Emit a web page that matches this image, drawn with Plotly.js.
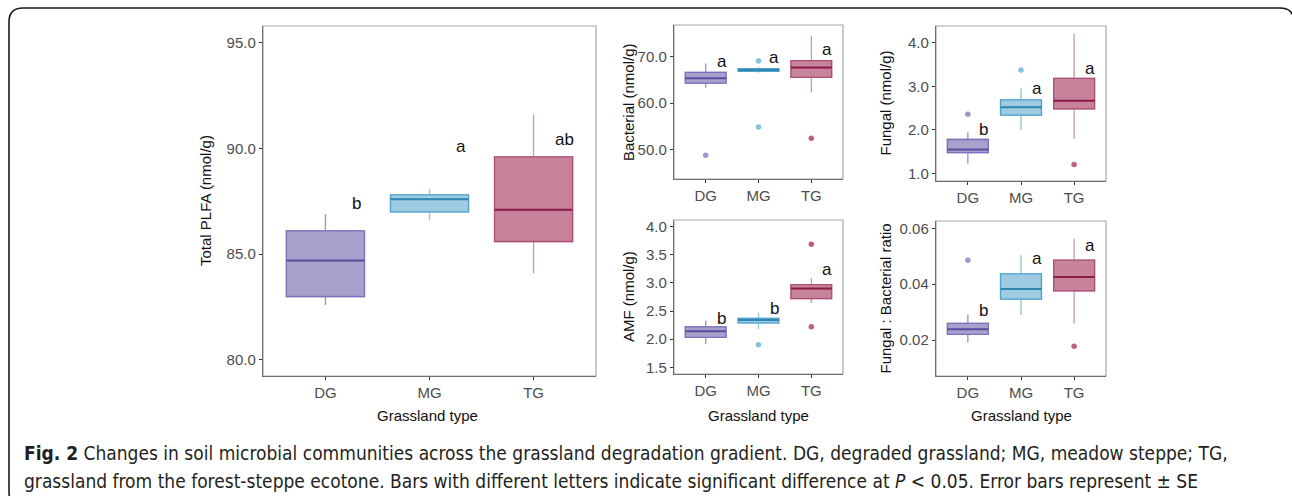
<!DOCTYPE html>
<html>
<head>
<meta charset="utf-8">
<script src="https://cdn.plot.ly/plotly-3.0.1.min.js"></script>
<style>html,body{margin:0;padding:0;background:#fff;}#chart{width:1292px;height:496px;}</style>
</head>
<body>
<div id="chart"></div>
<script>
// ---------------- data ----------------
const groups = ['DG', 'MG', 'TG'];

const plfaLower  = [82.6, 86.6, 84.1];
const plfaQ1     = [83.0, 87.0, 85.6];
const plfaMedian = [84.7, 87.6, 87.1];
const plfaQ3     = [86.1, 87.8, 89.6];
const plfaUpper  = [86.9, 88.1, 91.6];
const plfaOutliers = [[], [], []];
const plfaLetters = ['b', 'a', 'ab'];
const plfaLetterY = [87.4, 90.1, 90.4];

const bacLower  = [63.3, 66.5, 62.3];
const bacQ1     = [64.3, 66.8, 65.5];
const bacMedian = [65.3, 67.1, 67.6];
const bacQ3     = [66.6, 67.4, 69.1];
const bacUpper  = [68.5, 67.8, 74.4];
const bacOutliers = [[48.9], [69.0, 54.9], [52.5]];
const bacLetters = ['a', 'a', 'a'];
const bacLetterY = [68.9, 69.8, 71.4];

const funLower  = [1.23, 2.00, 1.79];
const funQ1     = [1.48, 2.34, 2.48];
const funMedian = [1.55, 2.52, 2.67];
const funQ3     = [1.78, 2.69, 3.18];
const funUpper  = [1.94, 2.95, 4.20];
const funOutliers = [[2.36], [3.37], [1.21]];
const funLetters = ['b', 'a', 'a'];
const funLetterY = [2.00, 2.94, 3.40];

const amfLower  = [1.91, 2.18, 2.64];
const amfQ1     = [2.03, 2.29, 2.72];
const amfMedian = [2.14, 2.34, 2.90];
const amfQ3     = [2.22, 2.37, 2.97];
const amfUpper  = [2.33, 2.47, 3.09];
const amfOutliers = [[], [1.90], [3.69, 2.22]];
const amfLetters = ['b', 'b', 'a'];
const amfLetterY = [2.37, 2.54, 3.24];

const fbLower  = [0.0192, 0.0290, 0.0260];
const fbQ1     = [0.0221, 0.0347, 0.0376];
const fbMedian = [0.0239, 0.0383, 0.0426];
const fbQ3     = [0.0260, 0.0437, 0.0486];
const fbUpper  = [0.0292, 0.0504, 0.0563];
const fbOutliers = [[0.0486], [], [0.0178]];
const fbLetters = ['b', 'a', 'a'];
const fbLetterY = [0.0305, 0.0491, 0.0540];

// ---------------- style ----------------
const fillCol    = ['#a9a1cd', '#9ecbe1', '#c8839c'];
const outlineCol = ['#7e70b9', '#52a3cb', '#ab4f73'];
const medianCol  = ['#5d4c9f', '#2f86b5', '#8b1d47'];
const whiskerCol = ['#9a8ec9', '#8cc3de', '#c99aae'];
const pointCol   = ['#a193cb', '#86c2de', '#c0607f'];

const W = 1292, H = 496;
const px = p => p / W;
const py = p => 1 - p / H;

const panels = [
  {ax: '', lo: plfaLower, q1: plfaQ1, md: plfaMedian, q3: plfaQ3, hi: plfaUpper, out: plfaOutliers,
   let: plfaLetters, letY: plfaLetterY, dom: [263, 596, 26, 376], range: [79.24, 95.79], dtick: 5, fmt: '.1f', bw: 0.75,
   ytitle: 'Total PLFA (nmol/g)', ytx: 205, xtitle: 'Grassland type', xtx: 427, showX: true},
  {ax: '2', lo: bacLower, q1: bacQ1, md: bacMedian, q3: bacQ3, hi: bacUpper, out: bacOutliers,
   let: bacLetters, letY: bacLetterY, dom: [674, 843, 25, 179], range: [43.8, 76.7], dtick: 10, fmt: '.1f', bw: 0.77,
   ytitle: 'Bacterial (nmol/g)', ytx: 628, showX: false},
  {ax: '3', lo: funLower, q1: funQ1, md: funMedian, q3: funQ3, hi: funUpper, out: funOutliers,
   let: funLetters, letY: funLetterY, dom: [936, 1106, 26, 181], range: [0.83, 4.38], dtick: 1, fmt: '.1f', bw: 0.77,
   ytitle: 'Fungal (nmol/g)', ytx: 885, showX: false},
  {ax: '4', lo: amfLower, q1: amfQ1, md: amfMedian, q3: amfQ3, hi: amfUpper, out: amfOutliers,
   let: amfLetters, letY: amfLetterY, dom: [674, 843, 220, 374], range: [1.38, 4.12], dtick: 0.5, fmt: '.1f', bw: 0.77,
   ytitle: 'AMF (nmol/g)', ytx: 628, xtitle: 'Grassland type', xtx: 758, showX: true},
  {ax: '5', lo: fbLower, q1: fbQ1, md: fbMedian, q3: fbQ3, hi: fbUpper, out: fbOutliers,
   let: fbLetters, letY: fbLetterY, dom: [936, 1106, 221, 376], range: [0.0072, 0.0626], dtick: 0.02, fmt: '.2f', bw: 0.77,
   ytitle: 'Fungal : Bacterial ratio', ytx: 885, xtitle: 'Grassland type', xtx: 1021, showX: true}
];

const traces = [];
const annotations = [];
const shapes = [];
const layout = {
  width: W, height: H,
  margin: {l: 0, r: 0, t: 0, b: 0},
  paper_bgcolor: '#ffffff', plot_bgcolor: '#ffffff',
  showlegend: false, hovermode: false, boxmode: 'overlay',
  font: {family: 'Liberation Sans, Arial, sans-serif', size: 15, color: '#4d4d4d'}
};

panels.forEach(p => {
  const xa = 'x' + p.ax, ya = 'y' + p.ax;
  groups.forEach((g, i) => {
    // whiskers (lighter line)
    traces.push({type: 'box', xaxis: xa, yaxis: ya, x: [i], q1: [p.q1[i]], median: [p.md[i]], q3: [p.q3[i]],
      lowerfence: [p.lo[i]], upperfence: [p.hi[i]], width: p.bw, whiskerwidth: 0, boxpoints: false,
      fillcolor: 'rgba(0,0,0,0)', line: {color: whiskerCol[i], width: 1.3}, name: g});
    // box body
    traces.push({type: 'box', xaxis: xa, yaxis: ya, x: [i], q1: [p.q1[i]], median: [p.md[i]], q3: [p.q3[i]],
      lowerfence: [p.q1[i]], upperfence: [p.q3[i]], width: p.bw, whiskerwidth: 0, boxpoints: false,
      fillcolor: fillCol[i], line: {color: outlineCol[i], width: 1.3}, name: g});
    // median line
    traces.push({type: 'scatter', mode: 'lines', xaxis: xa, yaxis: ya,
      x: [i - p.bw / 2, i + p.bw / 2], y: [p.md[i], p.md[i]],
      line: {color: medianCol[i], width: 2}, name: g});
    // outliers
    if (p.out[i].length) {
      traces.push({type: 'scatter', mode: 'markers', xaxis: xa, yaxis: ya,
        x: p.out[i].map(() => i), y: p.out[i],
        marker: {color: pointCol[i], size: 5.5}, name: g});
    }
    // significance letters
    annotations.push({xref: xa, yref: ya, x: i + 0.3, y: p.letY[i], text: p.let[i], showarrow: false,
      xanchor: 'center', yanchor: 'middle', font: {size: 17, color: '#111111'}});
  });

  const [x0, x1, y0, y1] = p.dom;
  layout['xaxis' + p.ax] = {
    domain: [px(x0), px(x1)], anchor: ya, range: [-0.6, 2.6],
    tickvals: [0, 1, 2], ticktext: groups, showticklabels: true,
    ticks: 'outside', ticklen: 3, tickcolor: '#333333', tickwidth: 1,
    showline: true, linecolor: '#6e6e6e', linewidth: 1.2, showgrid: false, zeroline: false,
    tickfont: {size: 15, color: '#4d4d4d'}, fixedrange: true
  };
  layout['yaxis' + p.ax] = {
    domain: [py(y1), py(y0)], anchor: xa, range: p.range,
    dtick: p.dtick, tick0: 0, tickformat: p.fmt,
    ticks: 'outside', ticklen: 3, tickcolor: '#333333', tickwidth: 1,
    showline: true, linecolor: '#6e6e6e', linewidth: 1.2, showgrid: false, zeroline: false,
    tickfont: {size: 15, color: '#4d4d4d'}, fixedrange: true
  };
  // top / right panel border (lighter grey)
  shapes.push({type: 'rect', xref: xa + ' domain', yref: ya + ' domain', x0: 0, x1: 1, y0: 0, y1: 1,
    line: {color: '#a6a6a6', width: 1.2}, fillcolor: 'rgba(0,0,0,0)', layer: 'below'});

  // axis titles
  annotations.push({xref: 'paper', yref: 'paper', x: px(p.ytx), y: py((y0 + y1) / 2), text: p.ytitle,
    textangle: -90, showarrow: false, xanchor: 'center', yanchor: 'middle', font: {size: 15, color: '#111111'}});
  if (p.xtitle) {
    annotations.push({xref: 'paper', yref: 'paper', x: px(p.xtx), y: py(415), text: p.xtitle,
      showarrow: false, xanchor: 'center', yanchor: 'middle', font: {size: 15, color: '#111111'}});
  }
});

// caption
const captionLine1 = '<b>Fig. 2</b> Changes in soil microbial communities across the grassland degradation gradient. DG, degraded grassland; MG, meadow steppe; TG,';
const captionLine2 = 'grassland from the forest-steppe ecotone. Bars with different letters indicate significant difference at <i>P</i> &lt; 0.05. Error bars represent ± SE';
const capFont = {family: 'Liberation Sans Narrow, DejaVu Sans Condensed, sans-serif', size: 19, color: '#231f20'};
annotations.push({xref: 'paper', yref: 'paper', x: px(22), y: py(453), text: captionLine1, showarrow: false,
  xanchor: 'left', yanchor: 'middle', font: capFont});
annotations.push({xref: 'paper', yref: 'paper', x: px(22), y: py(481), text: captionLine2, showarrow: false,
  xanchor: 'left', yanchor: 'middle', font: capFont});

// rounded outer frame
(function () {
  const L = 9, T = 8, R = 1294, B = 506, r = 14;
  const P = (a, b) => px(a) + ',' + py(b);
  const path = 'M ' + P(L, B - r) + ' L ' + P(L, T + r) + ' Q ' + P(L, T) + ' ' + P(L + r, T) +
    ' L ' + P(R - r, T) + ' Q ' + P(R, T) + ' ' + P(R, T + r) + ' L ' + P(R, B - r) +
    ' Q ' + P(R, B) + ' ' + P(R - r, B) + ' L ' + P(L + r, B) + ' Q ' + P(L, B) + ' ' + P(L, B - r) + ' Z';
  shapes.push({type: 'path', xref: 'paper', yref: 'paper', path: path, line: {color: '#1a1a1a', width: 1.6},
    fillcolor: 'rgba(0,0,0,0)', layer: 'above'});
})();

layout.annotations = annotations;
layout.shapes = shapes;

Plotly.newPlot('chart', traces, layout, {displayModeBar: false, staticPlot: true});
</script>
</body>
</html>
